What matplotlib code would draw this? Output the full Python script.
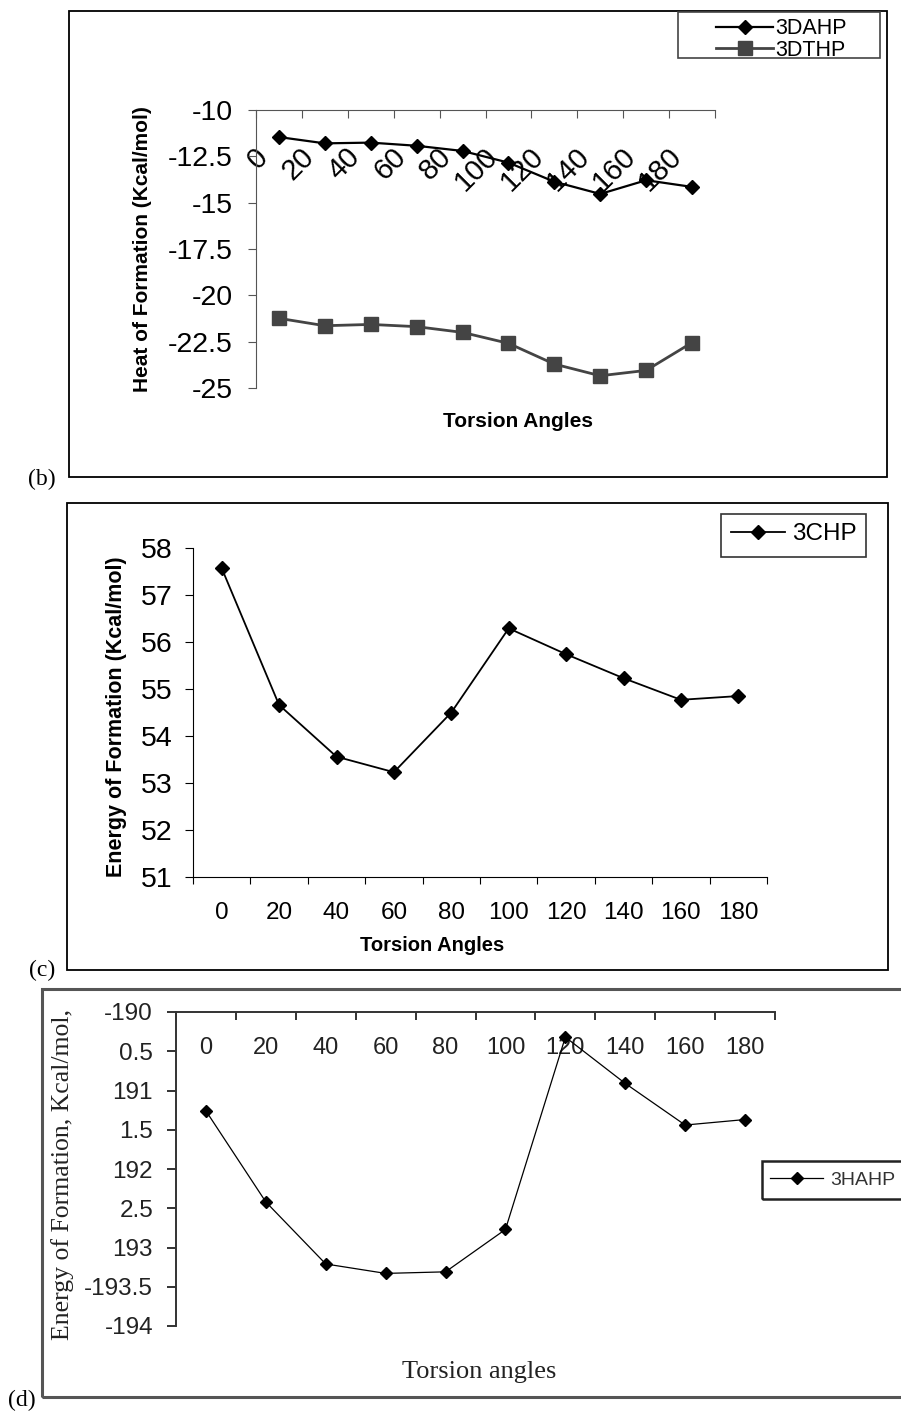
import matplotlib
matplotlib.use("Agg")
import matplotlib.pyplot as plt
import matplotlib.transforms as mtransforms
from matplotlib.patches import Rectangle

plt.rcParams['font.family'] = ['Liberation Sans', 'DejaVu Sans']

W, H = 901, 1411

angles = [0, 20, 40, 60, 80, 100, 120, 140, 160, 180]
heat_3dahp = [-11.46, -11.80, -11.76, -11.93, -12.21, -12.84, -13.87, -14.53, -13.79, -14.15]
heat_3dthp = [-21.24, -21.64, -21.57, -21.69, -22.00, -22.59, -23.71, -24.34, -24.05, -22.55]
energy_3chp = [57.57, 54.66, 53.56, 53.23, 54.50, 56.29, 55.74, 55.23, 54.77, 54.85]
energy_3hahp = [-191.26, -192.42, -193.21, -193.33, -193.31, -192.77, -190.32, -190.91, -191.44, -191.37]

b_yticks = [-25, -22.5, -20, -17.5, -15, -12.5, -10]
c_yticks = [51, 52, 53, 54, 55, 56, 57, 58]
d_yticks = [-194, -193.5, -193, -192.5, -192, -191.5, -191, -190.5, -190]
# tick texts of (d) as printed (partly cut off in the source)
d_ytick_text = ["-194", "-193.5", "193", "2.5", "192", "1.5", "191", "0.5", "-190"]

fig = plt.figure(figsize=(W / 100, H / 100), dpi=100)
fig.patch.set_facecolor('white')


def px_axes(x0, y0, x1, y1):
    return fig.add_axes([x0 / W, 1 - y1 / H, (x1 - x0) / W, (y1 - y0) / H])


def px_box(x0, y0, x1, y1, **kw):
    fig.add_artist(Rectangle((x0 / W, 1 - y1 / H), (x1 - x0) / W, (y1 - y0) / H,
                             transform=fig.transFigure, fill=False, **kw))


def category_axis(ax):
    pos = list(range(len(angles)))
    ax.set_xlim(-0.5, len(angles) - 0.5)
    ax.set_xticks([p - 0.5 for p in pos] + [len(angles) - 0.5])
    ax.set_xticklabels([])
    ax.set_xticks(pos, minor=True)
    ax.set_xticklabels([str(a) for a in angles], minor=True)
    return pos


# frames and panel letters
px_box(69, 11, 887, 477, edgecolor='black', lw=1.3)
px_box(67, 503, 888, 970, edgecolor='black', lw=1.3)
px_box(42, 989, 910, 1397, edgecolor='#555555', lw=2.2)
for txt, x, y in [("(b)", 42, 479), ("(c)", 42, 970), ("(d)", 22, 1400)]:
    fig.text(x / W, 1 - y / H, txt, family='Liberation Serif', fontsize=17,
             ha='center', va='center')

# ---------------- (b)
ax = px_axes(256, 110, 715, 388)
pos = category_axis(ax)
ax.plot(pos, heat_3dahp, color='black', marker='D', ms=7, lw=1.6, label='3DAHP')
ax.plot(pos, heat_3dthp, color='#444444', marker='s', ms=10.5, lw=2, label='3DTHP')
ax.set_ylim(-25, -10)
ax.set_yticks(b_yticks)
ax.set_yticklabels([f"{v:g}" for v in b_yticks])
for s in ['right', 'bottom']:
    ax.spines[s].set_visible(False)
for s in ['left', 'top']:
    ax.spines[s].set_color('#555555')
ax.tick_params(axis='y', direction='out', length=5.8, pad=11, labelsize=20.5, color='#555555')
ax.xaxis.set_ticks_position('top')
ax.tick_params(axis='x', which='major', direction='in', length=6, color='#555555')
ax.tick_params(axis='x', which='minor', length=0, top=True, bottom=False,
               labeltop=True, labelbottom=False, pad=-23.5, labelsize=21)
off = mtransforms.ScaledTranslation(-0.25, 0, fig.dpi_scale_trans)
for t in ax.xaxis.get_minor_ticks():
    t.label2.set(rotation=45, ha='right', va='top', rotation_mode='anchor')
    t.label2.set_transform(t.label2.get_transform() + off)
ax.set_ylabel("Heat of Formation (Kcal/mol)", fontsize=15, fontweight='bold')
ax.yaxis.label.set(ha='center', va='center')
ax.yaxis.set_label_coords(-0.247, 0.5)
ax.set_xlabel("Torsion Angles", fontsize=15, fontweight='bold')
ax.xaxis.set_label_position('bottom')
ax.xaxis.label.set(ha='center', va='center')
ax.xaxis.set_label_coords(0.571, -0.122)
ax.legend(loc='center left', bbox_to_anchor=(716 / W, 1 - 39.5 / H), bbox_transform=fig.transFigure,
          frameon=False, fontsize=15.5, borderpad=0, borderaxespad=0, handlelength=2.65,
          handletextpad=0.1, labelspacing=0.0)
px_box(678, 12, 880, 58, edgecolor='#444444', lw=1.2)

# ---------------- (c)
ax = px_axes(193, 548, 767, 877)
pos = category_axis(ax)
ax.plot(pos, energy_3chp, color='black', marker='D', ms=7, lw=1.3, label='3CHP')
ax.set_ylim(51, 58)
ax.set_yticks(c_yticks)
for s in ['right', 'top']:
    ax.spines[s].set_visible(False)
ax.tick_params(axis='y', direction='out', length=5.8, pad=8.6, labelsize=20.5)
ax.tick_params(axis='x', which='major', direction='out', length=5)
ax.tick_params(axis='x', which='minor', length=0, pad=18, labelsize=17.5)
ax.set_ylabel("Energy of Formation (Kcal/mol)", fontsize=15.5, fontweight='bold')
ax.yaxis.label.set(ha='center', va='center')
ax.yaxis.set_label_coords(-0.134, 0.488)
ax.set_xlabel("Torsion Angles", fontsize=14.5, fontweight='bold')
ax.xaxis.label.set(ha='center', va='center')
ax.xaxis.set_label_coords(0.417, -0.207)
ax.legend(loc='center left', bbox_to_anchor=(731 / W, 1 - 534 / H), bbox_transform=fig.transFigure,
          frameon=False, fontsize=17.5, borderpad=0, borderaxespad=0, handlelength=2.22,
          handletextpad=0.29)
px_box(721, 514, 866, 557, edgecolor='#333333', lw=1.2)

# ---------------- (d)
ax = px_axes(176, 1012, 775, 1326)
pos = category_axis(ax)
ax.plot(pos, energy_3hahp, color='black', marker='D', ms=6, lw=0.9, label='3HAHP')
ax.set_ylim(-194, -190)
ax.set_yticks(d_yticks)
ax.set_yticklabels(d_ytick_text)
for s in ['right', 'bottom']:
    ax.spines[s].set_visible(False)
for s in ['left', 'top']:
    ax.spines[s].set_color('#333333')
    ax.spines[s].set_linewidth(1.4)
ax.tick_params(axis='y', direction='out', length=6.5, width=1.4, pad=10, labelsize=17.5,
               color='#333333', labelcolor='#222222')
ax.xaxis.set_ticks_position('top')
ax.tick_params(axis='x', which='major', direction='in', length=5.8, width=1.4, color='#333333')
ax.tick_params(axis='x', which='minor', length=0, top=True, bottom=False,
               labeltop=True, labelbottom=False, pad=-26, labelsize=17, labelcolor='#222222')
for t in ax.xaxis.get_minor_ticks():
    t.label2.set(va='center')
ax.set_ylabel("Energy of Formation, Kcal/mol,", family='Liberation Serif', fontsize=18.5,
              color='#222222')
ax.yaxis.label.set(ha='center', va='center')
ax.yaxis.set_label_coords(-0.189, 0.481)
ax.set_xlabel("Torsion angles", family='Liberation Serif', fontsize=19, color='#222222')
ax.xaxis.set_label_position('bottom')
ax.xaxis.label.set(ha='center', va='center')
ax.xaxis.set_label_coords(0.506, -0.146)
leg = ax.legend(loc='center left', bbox_to_anchor=(770 / W, 1 - 1180 / H), bbox_transform=fig.transFigure,
                frameon=False, fontsize=14, borderpad=0, borderaxespad=0, handlelength=2.73,
                handletextpad=0.36)
for t in leg.get_texts():
    t.set_color('#333333')
px_box(762, 1161, 915, 1199, edgecolor='#222222', lw=1.8)

fig.savefig("out.png", dpi=100)
